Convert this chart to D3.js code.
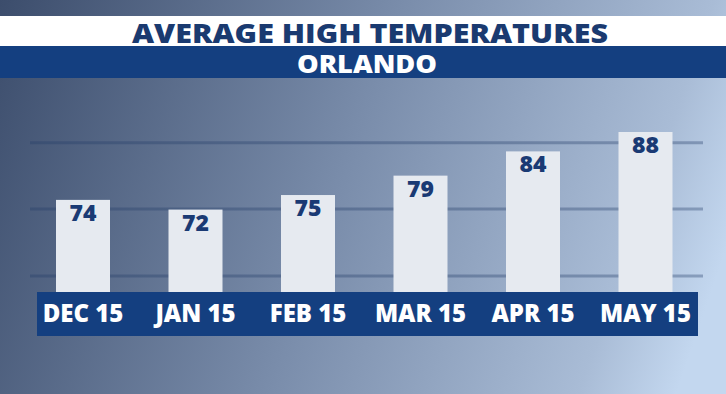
<!DOCTYPE html>
<html>
<head>
<meta charset="utf-8">
<script src="https://cdn.jsdelivr.net/npm/d3@7"></script>
<style>
  html, body { margin: 0; padding: 0; background: #ffffff; }
  svg { display: block; }
</style>
</head>
<body>
<svg id="chart" width="726" height="394"></svg>
<script>
// ---- data ----
const title = "AVERAGE HIGH TEMPERATURES";
const subtitle = "ORLANDO";
const categories = ["DEC 15", "JAN 15", "FEB 15", "MAR 15", "APR 15", "MAY 15"];
const temps = [74, 72, 75, 79, 84, 88];
const gridValues = [58.3, 72.1, 85.8];

// ---- layout ----
const W = 726, H = 394;
const baseY = 292;
const svg = d3.select("#chart");
const defs = svg.append("defs");

const bg = defs.append("linearGradient")
  .attr("id", "bg").attr("gradientUnits", "userSpaceOnUse")
  .attr("x1", 0).attr("y1", 0).attr("x2", W).attr("y2", 250);
[[0, "#3c4d6c"], [0.5, "#7a8dab"], [0.88, "#a9bcd6"], [1, "#c3d7ef"]]
  .forEach(([o, c]) => bg.append("stop").attr("offset", o).attr("stop-color", c));

svg.append("rect").attr("width", W).attr("height", H).attr("fill", "url(#bg)");

// header bands
svg.append("rect").attr("x", 0).attr("y", 16).attr("width", W).attr("height", 30).attr("fill", "#ffffff");
svg.append("rect").attr("x", 0).attr("y", 46).attr("width", W).attr("height", 32).attr("fill", "#143f80");

const font = "'Open Sans', 'DejaVu Sans', sans-serif";

svg.append("text").text(title)
  .attr("x", 370).attr("y", 43).attr("text-anchor", "middle")
  .attr("textLength", 476).attr("lengthAdjust", "spacingAndGlyphs")
  .attr("font-family", font).attr("font-weight", 800).attr("font-size", 27)
  .attr("fill", "#1a3a70");

svg.append("text").text(subtitle)
  .attr("x", 367).attr("y", 73).attr("text-anchor", "middle")
  .attr("textLength", 140).attr("lengthAdjust", "spacingAndGlyphs")
  .attr("font-family", font).attr("font-weight", 800).attr("font-size", 25)
  .attr("fill", "#ffffff");

// scales
const x = d3.scaleBand().domain(categories)
  .range([26.75, 701.75]).paddingInner(0.52).paddingOuter(0.26);
const y = d3.scaleLinear().domain([55, 88]).range([baseY, 132]);

// gridlines
svg.append("g").selectAll("line").data(gridValues).join("line")
  .attr("x1", 30).attr("x2", 703)
  .attr("y1", d => y(d)).attr("y2", d => y(d))
  .attr("stroke", "#233d66").attr("stroke-opacity", 0.35).attr("stroke-width", 3);

// bars
svg.append("g").selectAll("rect").data(temps).join("rect")
  .attr("x", (d, i) => x(categories[i]))
  .attr("width", x.bandwidth())
  .attr("y", d => y(d))
  .attr("height", d => baseY - y(d))
  .attr("fill", "#e6eaf0");

// value labels
svg.append("g").selectAll("text").data(temps).join("text")
  .text(d => d)
  .attr("x", (d, i) => x(categories[i]) + x.bandwidth() / 2)
  .attr("y", d => y(d) + 21)
  .attr("text-anchor", "middle")
  .attr("font-family", font).attr("font-weight", 800).attr("font-size", 23)
  .attr("fill", "#1a3a74");

// x-axis band
svg.append("rect").attr("x", 37).attr("y", baseY).attr("width", 661).attr("height", 44).attr("fill", "#143f80");

const xAxis = svg.append("g").attr("transform", `translate(0,${baseY})`)
  .call(d3.axisBottom(x).tickSize(0).tickPadding(0));
xAxis.select(".domain").remove();
xAxis.selectAll("text")
  .attr("y", 30).attr("dy", null)
  .attr("font-family", font).attr("font-weight", 800).attr("font-size", 24)
  .attr("fill", "#ffffff");
</script>
</body>
</html>
